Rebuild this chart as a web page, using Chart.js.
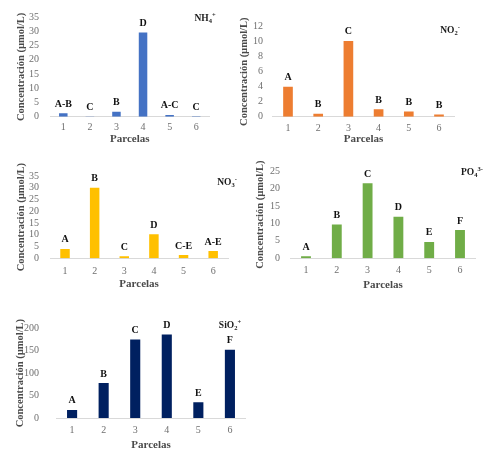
<!DOCTYPE html>
<html>
<head>
<meta charset="utf-8">
<script src="https://cdn.jsdelivr.net/npm/chart.js@4.4.0/dist/chart.umd.min.js"></script>
<style>
  html, body { margin: 0; padding: 0; background: #fff; }
  #page { position: relative; width: 496px; height: 456px; overflow: hidden; }
  .box { position: absolute; }
  .box canvas { display: block; }
</style>
</head>
<body>
<div id="page">
  <div class="box" id="b1"><canvas id="c1"></canvas></div>
  <div class="box" id="b2"><canvas id="c2"></canvas></div>
  <div class="box" id="b3"><canvas id="c3"></canvas></div>
  <div class="box" id="b4"><canvas id="c4"></canvas></div>
  <div class="box" id="b5"><canvas id="c5"></canvas></div>
</div>
<script>
const parcelas = ['1', '2', '3', '4', '5', '6'];

// NH4+
const nh4Values = [1.2, 0.05, 1.7, 29.6, 0.6, 0.15];
const nh4Letters = ['A-B', 'C', 'B', 'D', 'A-C', 'C'];
const nh4Ticks = [0, 5, 10, 15, 20, 25, 30, 35];

// NO2-
const no2Values = [4.0, 0.4, 10.1, 1.0, 0.7, 0.3];
const no2Letters = ['A', 'B', 'C', 'B', 'B', 'B'];
const no2Ticks = [0, 2, 4, 6, 8, 10, 12];

// NO3-
const no3Values = [4.0, 30.0, 0.85, 10.2, 1.4, 3.1];
const no3Letters = ['A', 'B', 'C', 'D', 'C-E', 'A-E'];
const no3Ticks = [0, 5, 10, 15, 20, 25, 30, 35];

// PO4 3-
const po4Values = [0.6, 9.7, 21.5, 11.9, 4.7, 8.1];
const po4Letters = ['A', 'B', 'C', 'D', 'E', 'F'];
const po4Ticks = [0, 5, 10, 15, 20, 25];

// SiO2+
const sio2Values = [18, 78, 175, 186, 35, 152];
const sio2Letters = ['A', 'B', 'C', 'D', 'E', 'F'];
const sio2Ticks = [0, 50, 100, 150, 200];

const serif = '"Liberation Serif", "Times New Roman", serif';
const yTitleText = 'Concentración (µmol/L)';
const xTitleText = 'Parcelas';

// letters over each bar
const letterPlugin = {
  id: 'letters',
  afterDatasetsDraw(chart, args, opts) {
    const ctx = chart.ctx;
    const meta = chart.getDatasetMeta(0);
    ctx.save();
    ctx.font = 'bold 10px ' + serif;
    ctx.fillStyle = '#111';
    ctx.textAlign = 'center';
    ctx.textBaseline = 'alphabetic';
    meta.data.forEach((bar, i) => ctx.fillText(opts.letters[i], bar.x, bar.y - 6.5));
    ctx.restore();
  }
};

// species name with sub/superscripts
const speciesPlugin = {
  id: 'species',
  afterDraw(chart, args, opts) {
    const ctx = chart.ctx;
    const big = 'bold 9.5px ' + serif;
    const small = 'bold 6.5px ' + serif;
    ctx.save();
    ctx.fillStyle = '#1a1a1a';
    ctx.textBaseline = 'alphabetic';
    ctx.textAlign = 'left';
    let total = 0;
    opts.parts.forEach(p => {
      ctx.font = p[1] === 0 ? big : small;
      total += ctx.measureText(p[0]).width;
    });
    let x = opts.x - total / 2;
    const base = opts.y + 3.2;
    opts.parts.forEach(p => {
      ctx.font = p[1] === 0 ? big : small;
      const dy = p[1] === 1 ? 2 : (p[1] === -1 ? -4 : 0);
      ctx.fillText(p[0], x, base + dy);
      x += ctx.measureText(p[0]).width;
    });
    ctx.restore();
  }
};

function makeChart(n, values, letters, ticks, color, parts, g) {
  const [bx, by, bw, bh] = g.box;
  const box = document.getElementById('b' + n);
  box.style.left = bx + 'px';
  box.style.top = by + 'px';
  const canvas = document.getElementById('c' + n);
  canvas.width = bw;
  canvas.height = bh;

  const yTitleLH = 10.5 * 1.2;
  const xTitleLH = 11 * 1.2;
  const [aL, aT, aR, aB] = g.area;
  const padLeft = g.yTitleX - yTitleLH / 2 - bx;
  const yWidth = aL - (g.yTitleX - yTitleLH / 2);
  const xHeight = g.xTitleY + xTitleLH / 2 - aB;

  return new Chart(canvas, {
    type: 'bar',
    data: {
      labels: parcelas,
      datasets: [{
        data: values,
        backgroundColor: color,
        barPercentage: 0.32,
        categoryPercentage: 1
      }]
    },
    options: {
      responsive: false,
      animation: false,
      layout: {
        autoPadding: false,
        padding: {
          left: padLeft,
          top: aT - by,
          right: bx + bw - aR,
          bottom: by + bh - aB - xHeight
        }
      },
      plugins: {
        legend: { display: false },
        tooltip: { enabled: false },
        letters: { letters: letters },
        species: { parts: parts, x: g.species[0] - bx, y: g.species[1] - by }
      },
      scales: {
        x: {
          grid: { display: false, drawTicks: false },
          border: { display: true, color: '#d9d9d9', width: 1 },
          ticks: { color: '#6f6f6f', font: { family: serif, size: 10 }, padding: g.xTickY - aB - 6, autoSkip: false, maxRotation: 0 },
          title: { display: true, text: xTitleText, color: '#4a4a4a', font: { family: serif, size: 11, weight: 'bold' }, padding: 0 },
          afterFit: s => { s.height = xHeight; }
        },
        y: {
          min: ticks[0],
          max: ticks[ticks.length - 1],
          grid: { display: false, drawTicks: false },
          border: { display: false },
          ticks: { color: '#6f6f6f', font: { family: serif, size: 10 }, padding: aL - g.yTickRight, autoSkip: false },
          afterBuildTicks: s => { s.ticks = ticks.map(v => ({ value: v })); },
          title: { display: true, text: yTitleText, color: '#4a4a4a', font: { family: serif, size: 10.5, weight: 'bold' }, padding: 0 },
          afterFit: s => { s.width = yWidth; }
        }
      }
    },
    plugins: [letterPlugin, speciesPlugin]
  });
}

makeChart(1, nh4Values, nh4Letters, nh4Ticks, '#4472c4',
  [['NH', 0], ['4', 1], ['+', -1]],
  { box: [0, 0, 240, 150], area: [50, 15, 209.5, 116.7], yTitleX: 21, yTickRight: 39, xTickY: 127.3, xTitleY: 139, species: [205, 18] });

makeChart(2, no2Values, no2Letters, no2Ticks, '#ed7d31',
  [['NO', 0], ['2', 1], ['-', -1]],
  { box: [236, 0, 260, 150], area: [272.9, 26.7, 454.1, 116.7], yTitleX: 244, yTickRight: 263, xTickY: 128.3, xTitleY: 139, species: [450, 30] });

makeChart(3, no3Values, no3Letters, no3Ticks, '#ffc000',
  [['NO', 0], ['3', 1], ['-', -1]],
  { box: [0, 150, 240, 150], area: [50.2, 176, 228, 258.3], yTitleX: 21, yTickRight: 39, xTickY: 271, xTitleY: 284, species: [227, 182] });

makeChart(4, po4Values, po4Letters, po4Ticks, '#70ad47',
  [['PO', 0], ['4', 1], ['3-', -1]],
  { box: [245, 150, 251, 150], area: [290.6, 171, 475.4, 258.3], yTitleX: 260, yTickRight: 280, xTickY: 270, xTitleY: 285, species: [472, 172] });

makeChart(5, sio2Values, sio2Letters, sio2Ticks, '#002060',
  [['SiO', 0], ['2', 1], ['+', -1]],
  { box: [0, 305, 250, 151], area: [56.3, 327.5, 245.7, 418], yTitleX: 20, yTickRight: 39, xTickY: 430.7, xTitleY: 445, species: [230, 325] });
</script>
</body>
</html>
